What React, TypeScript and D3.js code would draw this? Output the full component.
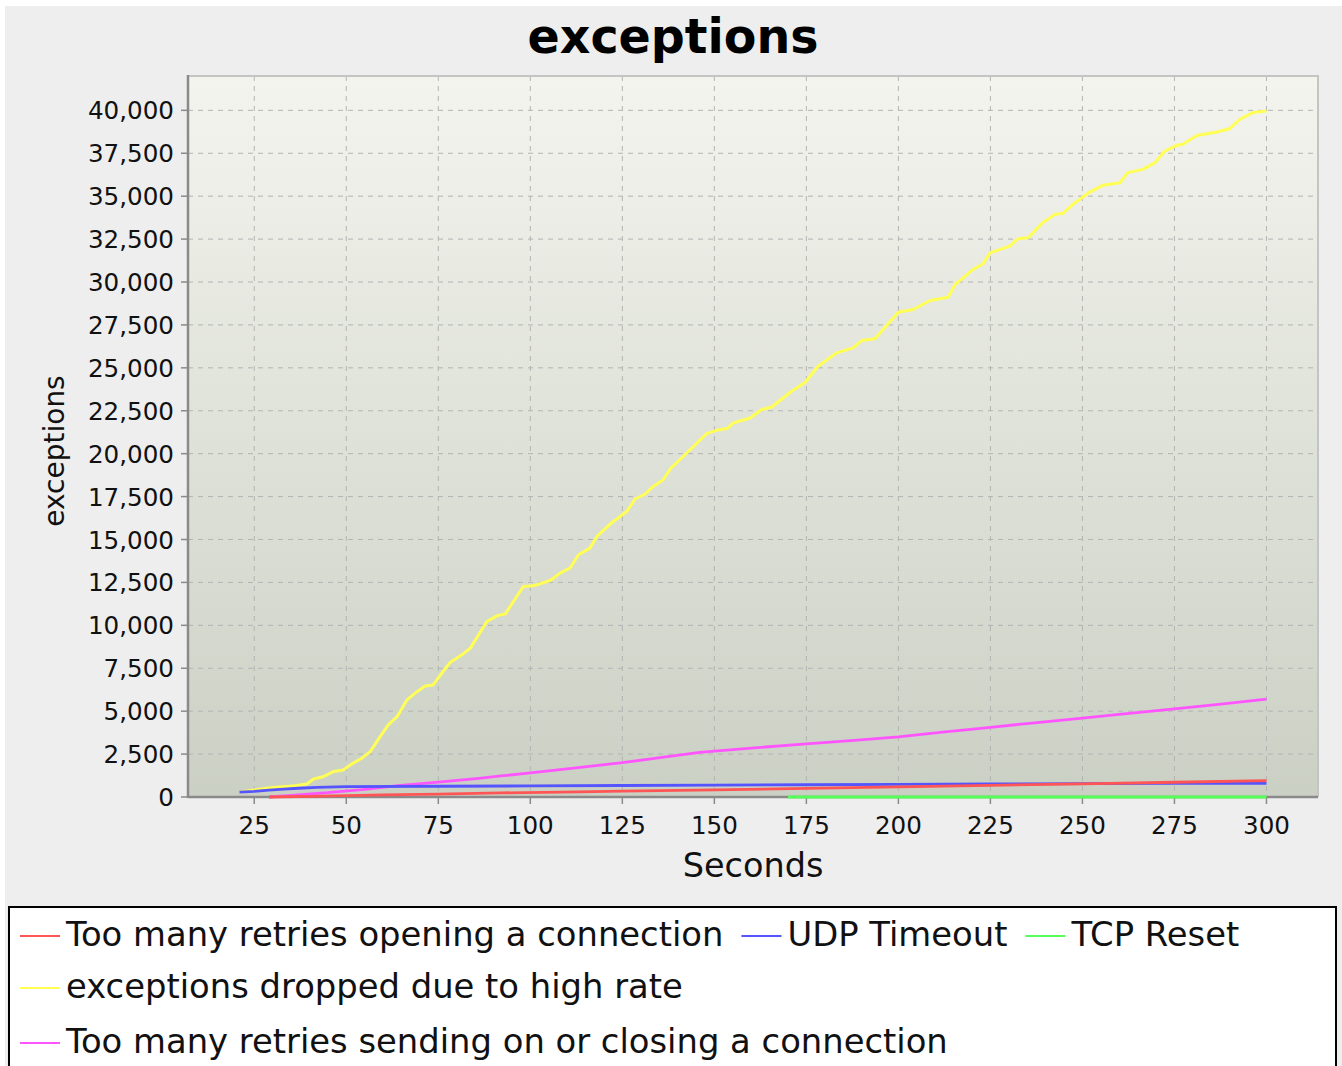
import * as React from "react"
import * as d3 from "d3"

const chartTitle = "exceptions"
const xLabel = "Seconds"
const yLabel = "exceptions"

const seriesNames = [
  "Too many retries opening a connection",
  "UDP Timeout",
  "TCP Reset",
  "exceptions dropped due to high rate",
  "Too many retries sending on or closing a connection",
]
const seriesColors = ["#ff5555", "#5555ff", "#55ff55", "#ffff55", "#ff55ff"]

const redSeconds = [29, 40, 50, 60, 75, 92, 113, 125, 150, 175, 200, 225, 250, 275, 300]
const redValues = [0, 40, 80, 120, 170, 240, 300, 340, 420, 500, 590, 680, 770, 860, 950]

const blueSeconds = [21, 25, 29, 33, 37, 42, 50, 75, 100, 125, 150, 175, 200, 225, 250, 275, 300]
const blueValues = [280, 330, 400, 460, 510, 560, 600, 625, 645, 670, 695, 715, 740, 760, 775, 790, 800]

const greenSeconds = [170, 200, 250, 300]
const greenValues = [0, 0, 0, 0]

const yellowSeconds = [
  21.2, 29.3, 36.1, 39.3, 41.1, 43.7, 46.5, 49.2, 51.1, 54.2, 56.5, 59.2, 61.4, 63.8, 66.5,
  68.7, 71.4, 73.6, 76.3, 78.2, 81.4, 83.7, 88.2, 90.9, 93.2, 98.1, 100.8, 105.4, 108.1, 110.8,
  113.1, 116.2, 118.1, 121.7, 126.2, 128.5, 131.2, 133.4, 136.1, 138.0, 142.5, 147.9, 150.6,
  153.4, 155.2, 159.7, 162.9, 165.6, 170.6, 174.7, 178.2, 183.2, 187.7, 190.0, 193.6, 200.0,
  204.0, 208.6, 213.5, 215.4, 220.3, 223.0, 224.9, 230.3, 232.5, 235.2, 239.3, 242.5, 244.7,
  247.4, 252.0, 255.5, 260.2, 262.3, 266.4, 269.7, 272.4, 275.6, 277.3, 281.1, 286.5, 290.0,
  292.8, 296.3, 300.0,
]
const yellowValues = [
  290, 540, 660, 760, 1050, 1180, 1480, 1570, 1870, 2260, 2640, 3520, 4200, 4680, 5660,
  6050, 6470, 6530, 7310, 7830, 8280, 8670, 10220, 10550, 10670, 12260, 12300, 12610, 13040, 13340,
  14110, 14500, 15180, 15900, 16640, 17360, 17650, 18090, 18480, 19110, 20040, 21170, 21360,
  21460, 21790, 22080, 22570, 22720, 23580, 24160, 25090, 25870, 26160, 26590, 26690, 28240,
  28400, 28920, 29110, 29850, 30730, 31060, 31700, 32090, 32520, 32580, 33470, 33940, 33990,
  34520, 35240, 35630, 35780, 36370, 36560, 36950, 37630, 37960, 38020, 38540, 38740, 38930,
  39480, 39870, 39960,
]

const magentaSeconds = [29, 35, 45, 55, 64, 75, 86, 92, 100, 113, 125, 146, 160, 175, 188, 200, 212, 225, 237, 250, 262, 275, 287, 300]
const magentaValues = [0, 100, 250, 450, 660, 870, 1090, 1225, 1400, 1710, 2000, 2600, 2850, 3100, 3300, 3500, 3780, 4060, 4320, 4590, 4860, 5130, 5400, 5700]

const xTicks = [25, 50, 75, 100, 125, 150, 175, 200, 225, 250, 275, 300]
const yTicks = [
  0, 2500, 5000, 7500, 10000, 12500, 15000, 17500, 20000, 22500, 25000, 27500, 30000, 32500,
  35000, 37500, 40000,
]

const legendRows = [[0, 1, 2], [3], [4]]

const FONT = "'DejaVu Sans', sans-serif"

function render(svgRef: React.RefObject<SVGSVGElement>) {
  const width = 1342
  const height = 1066
  const plot = { left: 188, top: 76, right: 1318, bottom: 797 }

  const svg = d3.select(svgRef.current).attr("width", width).attr("height", height)
  svg.selectAll("*").remove()

  const x = d3.scaleLinear().domain([7, 314]).range([plot.left, plot.right])
  const y = d3.scaleLinear().domain([0, 42000]).range([plot.bottom, plot.top])

  const series = [
    { xs: redSeconds, ys: redValues },
    { xs: blueSeconds, ys: blueValues },
    { xs: greenSeconds, ys: greenValues },
    { xs: yellowSeconds, ys: yellowValues },
    { xs: magentaSeconds, ys: magentaValues },
  ]

  // chart background
  svg.append("rect").attr("x", 0).attr("y", 0).attr("width", width).attr("height", height).attr("fill", "#ffffff")
  svg.append("rect").attr("x", 5).attr("y", 6).attr("width", width - 5).attr("height", height).attr("fill", "#eeeeee")

  const grad = svg
    .append("defs")
    .append("linearGradient")
    .attr("id", "plotbg")
    .attr("x1", "0%")
    .attr("x2", "0%")
    .attr("y1", "0%")
    .attr("y2", "100%")
  grad.append("stop").attr("offset", "0%").style("stop-color", "#f3f4ee")
  grad.append("stop").attr("offset", "100%").style("stop-color", "#cbd0c4")

  svg
    .append("rect")
    .attr("x", plot.left)
    .attr("y", plot.top)
    .attr("width", plot.right - plot.left)
    .attr("height", plot.bottom - plot.top)
    .attr("fill", "url(#plotbg)")

  // grid
  svg
    .append("g")
    .selectAll("line")
    .data(xTicks)
    .join("line")
    .attr("x1", (d) => x(d))
    .attr("x2", (d) => x(d))
    .attr("y1", plot.top)
    .attr("y2", plot.bottom)
    .attr("stroke", "#b4b4b2")
    .attr("stroke-width", 1)
    .attr("stroke-dasharray", "5,5")

  svg
    .append("g")
    .selectAll("line")
    .data(yTicks.filter((d) => d > 0))
    .join("line")
    .attr("x1", plot.left)
    .attr("x2", plot.right)
    .attr("y1", (d) => y(d))
    .attr("y2", (d) => y(d))
    .attr("stroke", "#b4b4b2")
    .attr("stroke-width", 1)
    .attr("stroke-dasharray", "5,5")

  // plot outline (top / right)
  svg
    .append("path")
    .attr("d", `M${plot.left},${plot.top}H${plot.right}V${plot.bottom}`)
    .attr("fill", "none")
    .attr("stroke", "#c4c4c4")
    .attr("stroke-width", 2)

  // axes
  const axisColor = "#8a8a8a"
  svg
    .append("line")
    .attr("x1", plot.left)
    .attr("x2", plot.left)
    .attr("y1", plot.top - 1)
    .attr("y2", plot.bottom + 1)
    .attr("stroke", axisColor)
    .attr("stroke-width", 2.5)
  svg
    .append("line")
    .attr("x1", plot.left)
    .attr("x2", plot.right)
    .attr("y1", plot.bottom)
    .attr("y2", plot.bottom)
    .attr("stroke", axisColor)
    .attr("stroke-width", 2.5)

  const yAxis = svg.append("g")
  yAxis
    .selectAll("line")
    .data(yTicks)
    .join("line")
    .attr("x1", plot.left - 7)
    .attr("x2", plot.left)
    .attr("y1", (d) => y(d))
    .attr("y2", (d) => y(d))
    .attr("stroke", axisColor)
    .attr("stroke-width", 1.5)
  yAxis
    .selectAll("text")
    .data(yTicks)
    .join("text")
    .attr("x", plot.left - 14)
    .attr("y", (d) => y(d) + 9)
    .attr("text-anchor", "end")
    .attr("font-family", FONT)
    .attr("font-size", "24.6px")
    .attr("fill", "#111")
    .text((d) => d3.format(",")(d))

  const xAxis = svg.append("g")
  xAxis
    .selectAll("line")
    .data(xTicks)
    .join("line")
    .attr("x1", (d) => x(d))
    .attr("x2", (d) => x(d))
    .attr("y1", plot.bottom)
    .attr("y2", plot.bottom + 7)
    .attr("stroke", axisColor)
    .attr("stroke-width", 1.5)
  xAxis
    .selectAll("text")
    .data(xTicks)
    .join("text")
    .attr("x", (d) => x(d))
    .attr("y", plot.bottom + 37)
    .attr("text-anchor", "middle")
    .attr("font-family", FONT)
    .attr("font-size", "24.6px")
    .attr("fill", "#111")
    .text((d) => d3.format(",")(d))

  // series, drawn last-to-first like the source
  const line = d3
    .line<[number, number]>()
    .x((d) => x(d[0]))
    .y((d) => y(d[1]))

  for (let i = series.length - 1; i >= 0; i--) {
    const s = series[i]
    const pts = s.xs.map((v, j) => [v, s.ys[j]] as [number, number])
    svg
      .append("path")
      .datum(pts)
      .attr("d", line)
      .attr("fill", "none")
      .attr("stroke", seriesColors[i])
      .attr("stroke-width", i === 3 ? 3 : 2.8)
      .attr("stroke-linejoin", "round")
  }

  // titles
  svg
    .append("text")
    .attr("x", 673)
    .attr("y", 53)
    .attr("text-anchor", "middle")
    .attr("font-family", FONT)
    .attr("font-weight", "bold")
    .attr("font-size", "47.5px")
    .attr("fill", "#000")
    .text(chartTitle)

  svg
    .append("text")
    .attr("x", (plot.left + plot.right) / 2)
    .attr("y", 877)
    .attr("text-anchor", "middle")
    .attr("font-family", FONT)
    .attr("font-size", "33.5px")
    .attr("fill", "#111")
    .text(xLabel)

  svg
    .append("text")
    .attr("transform", `translate(64, 451) rotate(-90)`)
    .attr("text-anchor", "middle")
    .attr("font-family", FONT)
    .attr("font-size", "28px")
    .attr("fill", "#111")
    .text(yLabel)

  // legend
  svg
    .append("rect")
    .attr("x", 9)
    .attr("y", 907)
    .attr("width", 1327)
    .attr("height", 200)
    .attr("fill", "#ffffff")
    .attr("stroke", "#000")
    .attr("stroke-width", 2)

  const rowBaselines = [946, 998, 1053]
  legendRows.forEach((row, r) => {
    let cx = 20
    row.forEach((idx) => {
      const base = rowBaselines[r]
      svg
        .append("line")
        .attr("x1", cx)
        .attr("x2", cx + 40)
        .attr("y1", base - 10)
        .attr("y2", base - 10)
        .attr("stroke", seriesColors[idx])
        .attr("stroke-width", 2)
      const t = svg
        .append("text")
        .attr("x", cx + 46)
        .attr("y", base)
        .attr("font-family", FONT)
        .attr("font-size", "33.8px")
        .attr("fill", "#111")
        .text(seriesNames[idx])
      const w = (t.node() as SVGTextElement).getComputedTextLength()
      cx = cx + 46 + w + 18
    })
  })
}

export default function App(): React.JSX.Element {
  const svg = React.useRef<SVGSVGElement>(null)

  React.useEffect(() => {
    render(svg)
  }, [])

  return <svg ref={svg} style={{ position: "absolute", left: 0, top: 0 }}></svg>
}
